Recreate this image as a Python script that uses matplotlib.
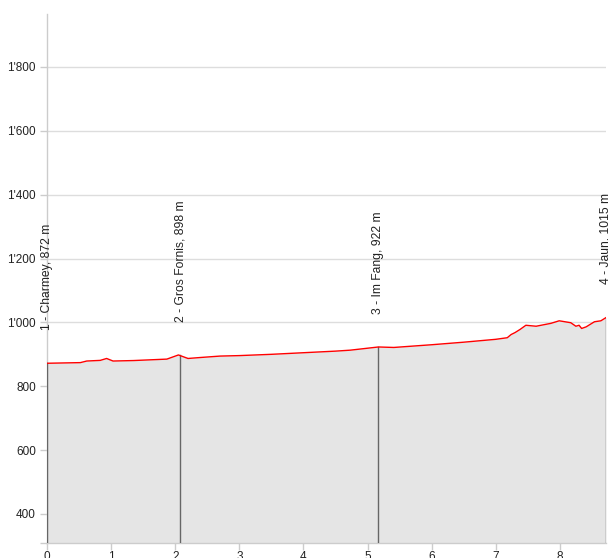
import matplotlib
matplotlib.use("Agg")
import matplotlib.pyplot as plt
from matplotlib.ticker import FuncFormatter

plt.rcParams['font.family'] = ['Liberation Sans', 'DejaVu Sans']

dist_km = [0.0, 0.52, 0.62, 0.83, 0.93, 1.03, 1.35, 1.87, 2.05, 2.2, 2.39, 2.7,
           3.0, 3.5, 4.0, 4.5, 4.73, 5.17, 5.41, 6.0, 6.5, 7.0, 7.18, 7.24, 7.3,
           7.38, 7.47, 7.63, 7.86, 7.99, 8.17, 8.25, 8.30, 8.34, 8.41, 8.54, 8.64,
           8.72]
elev_m = [872, 874, 879, 881, 887, 879, 880.5, 885, 898, 887, 890, 894.5,
          896, 900, 905, 910, 913, 923, 921.5, 930, 938, 947, 952, 962, 968,
          978, 991, 988, 997, 1005, 999, 988, 991, 981, 986, 1002, 1005, 1015]

stations_km = [0.0, 2.08, 5.17, 8.72]
stations_elev = [872, 898, 922, 1015]
stations_label = ["1 - Charmey, 872 m", "2 - Gros Fornis, 898 m",
                  "3 - Im Fang, 922 m", "4 - Jaun, 1015 m"]

yticks = [400, 600, 800, 1000, 1200, 1400, 1600, 1800]
xticks = [0, 1, 2, 3, 4, 5, 6, 7, 8]

fig = plt.figure(figsize=(6.08, 5.58), dpi=100)
ax = fig.add_axes([47/608, 15/558, (606-47)/608, (543-14)/558])

ymin, ymax = 309, 1966
ax.set_xlim(0, 8.72)
ax.set_ylim(ymin, ymax)

for t in yticks:
    ax.axhline(t, color='#dddddd', lw=1, zorder=1)

ax.fill_between(dist_km, elev_m, ymin, color='#e5e5e5', zorder=2, lw=0)
ax.plot(dist_km, elev_m, color='#ff0000', lw=1, zorder=4)

for xk, ev, lab in zip(stations_km, stations_elev, stations_label):
    ax.plot([xk, xk], [ymin, ev], color='#666666', lw=1, zorder=3)
    ax.annotate(lab, xy=(xk, ev), xytext=(0, 24), textcoords='offset points',
                rotation=90, ha='center', va='bottom', fontsize=8.7,
                color='#222222', annotation_clip=False, zorder=5)

for s in ['top', 'right']:
    ax.spines[s].set_visible(False)
for s in ['left', 'bottom']:
    ax.spines[s].set_color('#cccccc')
    ax.spines[s].set_linewidth(1)

ax.set_yticks(yticks)
ax.set_yticks([ymin], minor=True)
ax.yaxis.set_major_formatter(FuncFormatter(lambda v, p: f"{int(v):,}".replace(",", "'")))
ax.set_xticks(xticks)
ax.tick_params(axis='both', which='both', colors='#cccccc', labelcolor='#222222',
               labelsize=8.5, length=5, width=1)
ax.tick_params(axis='x', pad=1)
ax.tick_params(axis='y', pad=3)

fig.savefig("out.png", dpi=100)
